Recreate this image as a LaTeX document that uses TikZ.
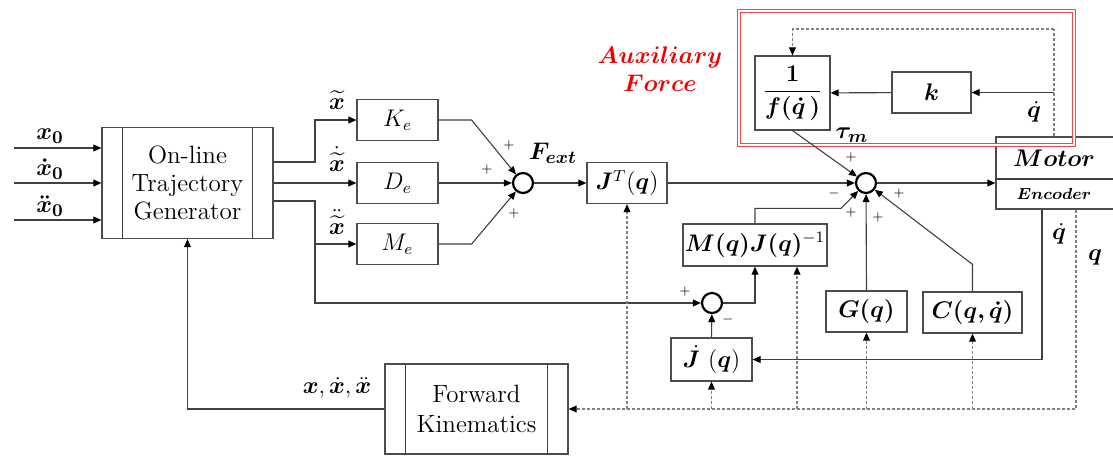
\documentclass[tikz,border=0pt]{standalone}
\usepackage{amsmath,amssymb,bm}
\usepackage{tikz}
\usetikzlibrary{arrows.meta,positioning,calc}
\definecolor{wire}{HTML}{404040}
\definecolor{boxline}{HTML}{4D4D4D}
\definecolor{auxred}{HTML}{F00000}
\tikzset{
  blk/.style={draw=boxline,line width=0.6pt,fill=white,minimum height=20.5pt,inner sep=0pt,font=\fontsize{12}{14}\selectfont},
  subsys/.style={blk,align=center},
  sumj/.style={circle,draw=black,line width=1.1pt,minimum size=10pt,inner sep=0pt},
  warr/.style={-{Triangle[length=4pt,width=3.4pt,color=black]},line width=0.55pt,draw=wire},
  wline/.style={line width=0.55pt,draw=wire},
  wdash/.style={line width=0.55pt,draw=black!50,dash pattern=on 1.6pt off 0.9pt},
  wdarr/.style={wdash,-{Triangle[length=4pt,width=3.4pt,color=black]}},
  lbl/.style={inner sep=0pt,font=\fontsize{13}{15}\selectfont},
  sgn/.style={inner sep=0pt,font=\fontsize{6.5}{7}\selectfont},
  redbox/.style={draw=red!75,line width=0.5pt,double=white,double distance=1pt}
}

\begin{document}
\begin{tikzpicture}[x=0.5pt,y=-0.5pt]
  \useasboundingbox (0,0) rectangle (1113,461);
  \node[subsys,minimum width=85.5pt,minimum height=55.5pt,font=\rmfamily\fontsize{12.5}{14}\selectfont] (gen) at (187.5,183) {On-line\\Trajectory\\Generator};
  \node[subsys,minimum width=91.5pt,minimum height=45pt,font=\rmfamily\fontsize{12.5}{15}\selectfont] (fk) at (476.5,409) {Forward\\Kinematics};
  \foreach \n in {gen,fk}{
    \draw[wline] ([xshift=10.75pt]\n.north west) -- ([xshift=10.75pt]\n.south west);
    \draw[wline] ([xshift=-10.75pt]\n.north east) -- ([xshift=-10.75pt]\n.south east);
  }
  \node[blk,minimum width=40.5pt] (ke) at (397.5,120) {$K_e$};
  \node[blk,minimum width=40.5pt] (de) at (397.5,183) {$D_e$};
  \node[blk,minimum width=40.5pt] (me) at (397.5,244) {$M_e$};
  \node[sumj] (s1) at (523,183) {};
  \node[blk,minimum width=40pt] (jt) at (627,183) {$\bm J^{T}(\bm q)$};
  \node[sumj] (s3) at (866,183) {};
  \node[blk,minimum width=72pt,minimum height=21pt] (mj) at (755,245) {$\bm{M(q)J(q)}^{-1}$};
  \node[sumj] (s2) at (712,303) {};
  \node[blk,minimum width=40.5pt,minimum height=21.5pt] (jd) at (711.5,359.5) {$\dot{\bm J}\ (\bm q)$};
  \node[blk,minimum width=40.5pt] (gq) at (866.5,311.5) {$\bm{G(q)}$};
  \node[blk,minimum width=49.5pt] (cq) at (972.5,312.5) {$\bm{C(q,\dot q)}$};
  \node[blk,minimum width=62pt,minimum height=36pt] (motor) at (1058,173) {};
  \draw[wline] ([yshift=-3pt]motor.west) -- ([yshift=-3pt]motor.east);
  \node[inner sep=0pt,font=\fontsize{12}{14}\selectfont] (mot) at (1054,158) {$\bm{Motor}$};
  \node[inner sep=0pt,font=\fontsize{8}{10}\selectfont] (enc) at (1054,194) {$\bm{Encoder}$};
  \node[blk,minimum width=37.5pt,minimum height=37pt] (finv) at (792.5,93) {$\dfrac{\bm 1}{\bm{f(\dot q\,)}}$};
  \node[blk,minimum width=39.5pt] (kk) at (931.5,92.5) {$\bm k$};
  \draw[redbox] (738.5,10.5) rectangle (1073.5,144.5);
  \node[lbl,text=auxred,align=center,font=\fontsize{12.5}{14}\selectfont] (aux) at (660,69) {$\bm{Auxiliary}$\\$\bm{Force}$};

  \coordinate (tx) at (315,0);
  \coordinate (qd) at (1042,0);
  \coordinate (qt) at (1054,29);
  \coordinate (qq) at (1076,409);
  \coordinate (in1) at (14,148);
  \coordinate (in2) at (14,183);
  \coordinate (in3) at (14,220);
  \coordinate (mjin) at ($(mj.south)+(42,0)$);

  \foreach \i in {1,2,3} \draw[warr] (in\i) -- (in\i -| gen.west);
  \draw[warr] ($(gen.east)+(0,-21)$) -| (ke.west -| tx) -- (ke.west);
  \draw[warr] (gen.east) -- (de.west);
  \draw[warr] ($(gen.east)+(0,18)$) -| (s2.west -| tx) -- (s2.west);
  \draw[warr] (me.west -| tx) -- (me.west);
  \draw[warr] (ke.east) -- ++(33,0) -- (s1);
  \draw[warr] (de.east) -- (s1);
  \draw[warr] (me.east) -- ++(33,0) -- (s1);
  \draw[warr] (s1) -- (jt);
  \draw[warr] (jt) -- (s3);
  \draw[warr] (s3) -- (s3 -| motor.west);
  \draw[warr] (finv.south) -- (s3);
  \draw[warr] (kk) -- (finv);
  \draw[wdash] (motor.north -| qt) -- (qt);
  \draw[wdarr] (qt) -| (finv.north);
  \draw[warr] (kk.east -| qt) -- (kk.east);
  \draw[warr] (mj.north) -- ++(0,-15) -- ++(86,0) -- (s3);
  \draw[warr] (gq.north) -- (s3);
  \draw[warr] (cq.north) -- ++(0,-27) -- (s3);
  \draw[warr] (s2.east) -| (mj.south);
  \draw[warr] (jd.north) -- (s2);
  \draw[warr] (motor.south -| qd) |- (jd.east);
  \draw[wdarr] (motor.south -| qq) -- (qq) -- (fk.east);
  \foreach \n in {jt,jd,gq,cq} \draw[wdarr] (\n.south |- qq) -- (\n.south);
  \draw[wdarr] (mjin |- qq) -- (mjin);
  \draw[warr] (fk.west) -| (gen.south);

  \node[lbl] (lx0) at (50,136) {$\bm{x_0}$};
  \node[lbl] (lx1) at (50,169) {$\bm{\dot x_0}$};
  \node[lbl] (lx2) at (50,206) {$\bm{\ddot x_0}$};
  \node[lbl] (lt0) at (337,100) {$\widetilde{\bm x}$};
  \node[lbl] (lt1) at (337,159) {$\dot{\widetilde{\bm x}}$};
  \node[lbl] (lt2) at (337,222) {$\ddot{\widetilde{\bm x}}$};
  \node[lbl] (lf) at (553,153) {$\bm{F_{ext}}$};
  \node[lbl] (ltau) at (852,135) {$\bm{\tau_m}$};
  \node[lbl] (lq1) at (1034,112) {$\dot{\bm q}$};
  \node[lbl] (lq2) at (1059,234) {$\dot{\bm q}$};
  \node[lbl] (lq3) at (1095,257) {$\bm q$};
  \node[lbl] (lx) at (337,388) {$\bm{x},\dot{\bm x},\ddot{\bm x}$};
  \foreach \x/\y/\s [count=\i] in {509/145/+,487/169/+,514/213/+,851/157/+,834/193/-,851/212/+,878/217/+,899/193/+,685/291/+,728/319/-}
    \node[sgn] (sg\i) at (\x,\y) {$\s$};
\end{tikzpicture}
\end{document}
